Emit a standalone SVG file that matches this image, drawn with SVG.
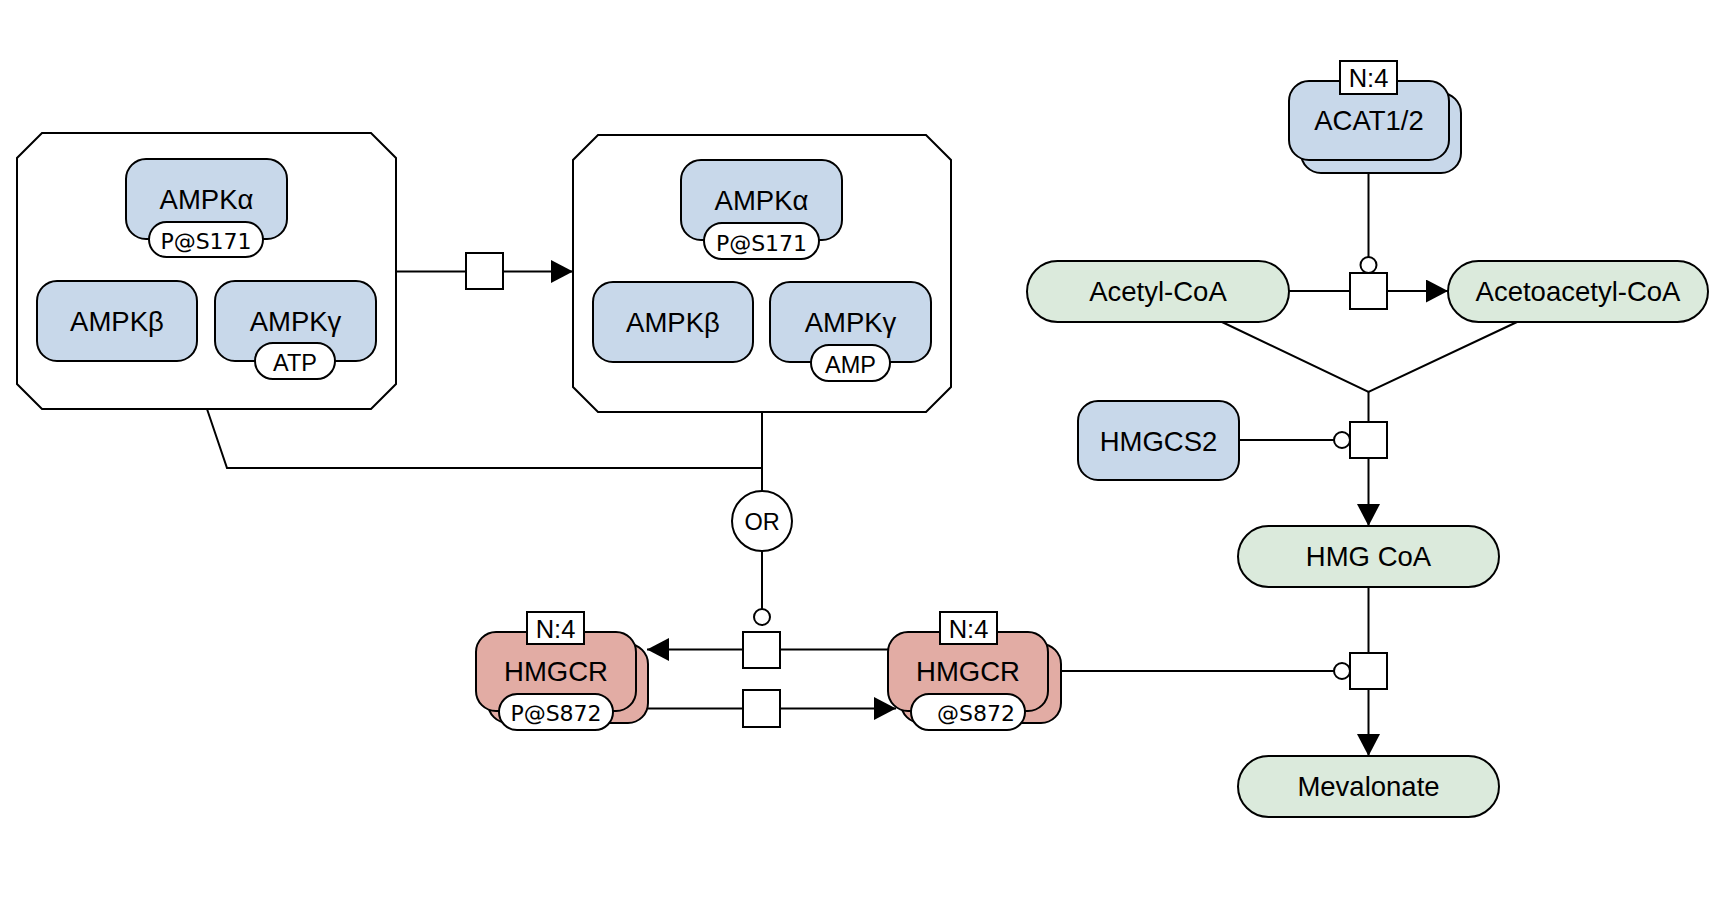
<svg xmlns="http://www.w3.org/2000/svg" width="1726" height="898" viewBox="0 0 1726 898">
<style>
.bg{fill:#ffffff}
.cx{fill:#ffffff;stroke:#000;stroke-width:2}
.mb{fill:#c8d8ea;stroke:#000;stroke-width:2}
.mr{fill:#e2aca4;stroke:#000;stroke-width:2}
.sm{fill:#dbeadc;stroke:#000;stroke-width:2}
.sv{fill:#ffffff;stroke:#000;stroke-width:2}
.pr{fill:#ffffff;stroke:#000;stroke-width:2}
.ln{fill:none;stroke:#000;stroke-width:2}
.t{font-family:"Liberation Sans",Arial,sans-serif;font-size:27.5px;text-anchor:middle;fill:#000}
.ts{font-family:"DejaVu Sans",sans-serif;font-size:22px;text-anchor:middle;fill:#000}
.ta{font-family:"Liberation Sans",Arial,sans-serif;font-size:23.5px;text-anchor:middle;fill:#000}
.tn{font-family:"Liberation Sans",Arial,sans-serif;font-size:25.5px;text-anchor:middle;fill:#000}
</style>
<defs>
<marker id="arr" viewBox="0 0 22 23" refX="22" refY="11.5" markerWidth="22" markerHeight="23" markerUnits="userSpaceOnUse" orient="auto">
<path d="M0,0 L22,11.5 L0,23 z" fill="#000"/>
</marker>
</defs>
<rect class="bg" x="0" y="0" width="1726" height="898"/>

<g id="connectors">
<line class="ln" x1="396" y1="271.5" x2="466" y2="271.5"/>
<line class="ln" x1="503" y1="271.5" x2="573" y2="271.5" marker-end="url(#arr)"/>
<polyline class="ln" points="207,409 227,468 762,468"/>
<line class="ln" x1="762" y1="412" x2="762" y2="491"/>
<line class="ln" x1="762" y1="551" x2="762" y2="609"/>
<line class="ln" x1="888" y1="649.5" x2="780" y2="649.5"/>
<line class="ln" x1="743" y1="649.5" x2="647" y2="649.5" marker-end="url(#arr)"/>
<line class="ln" x1="648" y1="708.5" x2="743" y2="708.5"/>
<line class="ln" x1="780" y1="708.5" x2="896" y2="708.5" marker-end="url(#arr)"/>
<line class="ln" x1="1061" y1="671" x2="1334" y2="671"/>
<line class="ln" x1="1368.5" y1="173" x2="1368.5" y2="257"/>
<line class="ln" x1="1289" y1="291" x2="1350" y2="291"/>
<line class="ln" x1="1387" y1="291" x2="1448" y2="291" marker-end="url(#arr)"/>
<polyline class="ln" points="1222,322 1368.5,392 1517,322"/>
<line class="ln" x1="1368.5" y1="392" x2="1368.5" y2="422"/>
<line class="ln" x1="1239" y1="440" x2="1334" y2="440"/>
<line class="ln" x1="1368.5" y1="458" x2="1368.5" y2="526" marker-end="url(#arr)"/>
<line class="ln" x1="1368.5" y1="587" x2="1368.5" y2="653"/>
<line class="ln" x1="1368.5" y1="689" x2="1368.5" y2="756" marker-end="url(#arr)"/>
<circle class="pr" cx="762" cy="617" r="8"/>
<circle class="pr" cx="1368.5" cy="265" r="8"/>
<circle class="pr" cx="1342" cy="440" r="8"/>
<circle class="pr" cx="1342" cy="671" r="8"/>
</g>

<g id="process1"><rect class="pr" x="466" y="253" width="37" height="36"/></g>
<g id="process2"><rect class="pr" x="743" y="632" width="37" height="36"/></g>
<g id="process3"><rect class="pr" x="743" y="690" width="37" height="37"/></g>
<g id="process4"><rect class="pr" x="1350" y="273" width="37" height="36"/></g>
<g id="process5"><rect class="pr" x="1350" y="422" width="37" height="36"/></g>
<g id="process6"><rect class="pr" x="1350" y="653" width="37" height="36"/></g>

<g id="or">
<circle class="pr" cx="762" cy="521" r="30"/>
<text class="ta" x="762" y="529.5">OR</text>
</g>

<g id="complex1">
<polygon class="cx" points="42,133 371,133 396,158 396,384 371,409 42,409 17,384 17,158"/>
<g id="c1_alpha">
<rect class="mb" x="126" y="159" width="161" height="80" rx="20"/>
<text class="t" x="206.5" y="209">AMPKα</text>
<rect class="sv" x="149" y="222" width="114" height="35" rx="17.5"/>
<text class="ts" x="206" y="249">P@S171</text>
</g>
<g id="c1_beta">
<rect class="mb" x="37" y="281" width="160" height="80" rx="20"/>
<text class="t" x="117" y="330.5">AMPKβ</text>
</g>
<g id="c1_gamma">
<rect class="mb" x="215" y="281" width="161" height="80" rx="20"/>
<text class="t" x="295.5" y="330.5">AMPKγ</text>
<rect class="sv" x="255" y="343" width="80" height="36" rx="18"/>
<text class="ta" x="295" y="371">ATP</text>
</g>
</g>

<g id="complex2">
<polygon class="cx" points="598,135 926,135 951,160 951,387 926,412 598,412 573,387 573,160"/>
<g id="c2_alpha">
<rect class="mb" x="681" y="160" width="161" height="80" rx="20"/>
<text class="t" x="761.5" y="210">AMPKα</text>
<rect class="sv" x="704" y="223" width="115" height="36" rx="18"/>
<text class="ts" x="761.5" y="250.5">P@S171</text>
</g>
<g id="c2_beta">
<rect class="mb" x="593" y="282" width="160" height="80" rx="20"/>
<text class="t" x="673" y="331.5">AMPKβ</text>
</g>
<g id="c2_gamma">
<rect class="mb" x="770" y="282" width="161" height="80" rx="20"/>
<text class="t" x="850.5" y="331.5">AMPKγ</text>
<rect class="sv" x="811" y="345" width="79" height="36" rx="18"/>
<text class="ta" x="850.5" y="373">AMP</text>
</g>
</g>

<g id="hmgcr_p">
<rect class="mr" x="488" y="644" width="160" height="79" rx="20"/>
<rect class="mr" x="476" y="632" width="160" height="79" rx="20"/>
<rect class="sv" x="527" y="612" width="57" height="32"/>
<text class="tn" x="555.5" y="637.5">N:4</text>
<text class="t" x="556" y="681">HMGCR</text>
<rect class="sv" x="499" y="694" width="114" height="36" rx="18"/>
<text class="ts" x="556" y="720.5">P@S872</text>
</g>

<g id="hmgcr">
<rect class="mr" x="901" y="644" width="160" height="79" rx="20"/>
<rect class="mr" x="888" y="632" width="160" height="79" rx="20"/>
<rect class="sv" x="940" y="612" width="57" height="32"/>
<text class="tn" x="968.5" y="637.5">N:4</text>
<text class="t" x="968" y="681">HMGCR</text>
<rect class="sv" x="911" y="694" width="114" height="36" rx="18"/>
<text class="ts" x="976" y="720.5">@S872</text>
</g>

<g id="acat">
<rect class="mb" x="1301" y="93" width="160" height="80" rx="20"/>
<rect class="mb" x="1289" y="81" width="160" height="79" rx="20"/>
<rect class="sv" x="1340" y="61" width="57" height="33"/>
<text class="tn" x="1368.5" y="86.5">N:4</text>
<text class="t" x="1369" y="130">ACAT1/2</text>
</g>

<g id="acetylcoa">
<rect class="sm" x="1027" y="261" width="262" height="61" rx="30.5"/>
<text class="t" x="1158" y="300.5">Acetyl-CoA</text>
</g>

<g id="acetoacetylcoa">
<rect class="sm" x="1448" y="261" width="260" height="61" rx="30.5"/>
<text class="t" x="1578" y="300.5">Acetoacetyl-CoA</text>
</g>

<g id="hmgcs2">
<rect class="mb" x="1078" y="401" width="161" height="79" rx="20"/>
<text class="t" x="1158.5" y="450.5">HMGCS2</text>
</g>

<g id="hmgcoa">
<rect class="sm" x="1238" y="526" width="261" height="61" rx="30.5"/>
<text class="t" x="1368.5" y="566">HMG CoA</text>
</g>

<g id="mevalonate">
<rect class="sm" x="1238" y="756" width="261" height="61" rx="30.5"/>
<text class="t" x="1368.5" y="795.5">Mevalonate</text>
</g>
</svg>
